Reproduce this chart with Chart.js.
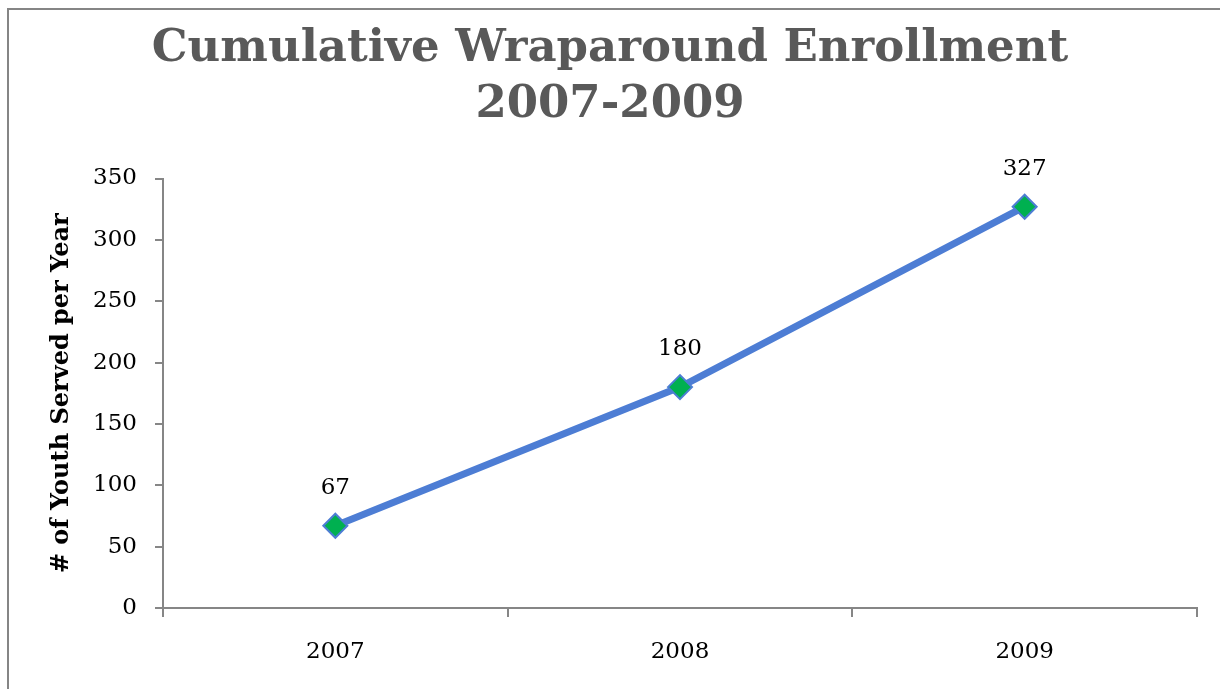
<!DOCTYPE html>
<html>
<head>
  <meta http-equiv="content-type" content="text/html; charset=utf-8"/>
  <script src="https://cdn.jsdelivr.net/npm/chart.js@4/dist/chart.umd.min.js"></script>
  <style>
    html, body { margin: 0; padding: 0; background: #fff; overflow: hidden; }
    #frame {
      position: absolute; left: 7px; top: 8px; width: 1300px; height: 800px;
      border: 2px solid #858585; box-sizing: border-box;
    }
    #chart { position: absolute; left: 0; top: 0; }
  </style>
</head>
<body>
<div id="frame"></div>
<canvas id="chart" width="1220" height="689"></canvas>

<script>
    // chart data
    const years = ['2007', '2008', '2009'];
    const youthServed = [67, 180, 327];
    const yMin = 0;
    const yMax = 350;
    const yStep = 50;

    const titleLines = ['Cumulative Wraparound Enrollment', '2007-2009'];
    const yTitle = '# of Youth Served per Year';

    const serif = '"DejaVu Serif", "Liberation Serif", serif';
    const axisGray = '#868686';

    // value labels above each marker
    const valueLabels = {
        id: 'valueLabels',
        afterDatasetsDraw(chart) {
            const ctx = chart.ctx;
            const meta = chart.getDatasetMeta(0);
            ctx.save();
            ctx.font = '23px ' + serif;
            ctx.fillStyle = '#000';
            ctx.textAlign = 'center';
            ctx.textBaseline = 'middle';
            meta.data.forEach((pt, i) => {
                ctx.fillText(String(youthServed[i]), pt.x, pt.y - 38);
            });
            ctx.restore();
        }
    };

    new Chart(document.getElementById('chart'), {
        type: 'line',
        data: {
            labels: years,
            datasets: [{
                data: youthServed,
                borderColor: '#4d7dd4',
                borderWidth: 7,
                tension: 0,
                pointStyle: 'rectRot',
                pointRadius: 12,
                pointHoverRadius: 12,
                pointBackgroundColor: '#00b050',
                pointBorderColor: '#4d7dd4',
                pointBorderWidth: 2,
                clip: false
            }]
        },
        options: {
            responsive: false,
            animation: false,
            layout: { padding: { left: 23, right: 23, top: 21, bottom: 0 } },
            plugins: {
                legend: { display: false },
                tooltip: { enabled: false },
                title: {
                    display: true,
                    text: titleLines,
                    color: '#595959',
                    font: { family: serif, weight: 'bold', size: 45, lineHeight: 1.25 },
                    padding: { top: 0, bottom: 45 }
                }
            },
            scales: {
                x: {
                    offset: true,
                    grid: {
                        offset: true,
                        drawOnChartArea: false,
                        color: axisGray,
                        lineWidth: 2,
                        tickLength: 9
                    },
                    border: { color: axisGray, width: 2 },
                    ticks: { color: '#000', font: { family: serif, size: 23 }, padding: 21 },
                    afterFit(scale) { scale.height = 81; }
                },
                y: {
                    min: yMin,
                    max: yMax,
                    grid: {
                        drawOnChartArea: false,
                        color: axisGray,
                        lineWidth: 2,
                        tickLength: 8
                    },
                    border: { color: axisGray, width: 2 },
                    ticks: { stepSize: yStep, color: '#000', font: { family: serif, size: 23 }, padding: 18 },
                    title: {
                        display: true,
                        text: yTitle,
                        color: '#000',
                        font: { family: serif, weight: 'bold', size: 24, lineHeight: 1.2 },
                        padding: { top: 24, bottom: 0 }
                    },
                    afterFit(scale) { scale.width = 140; }
                }
            }
        },
        plugins: [valueLabels]
    });
</script>
</body>
</html>
